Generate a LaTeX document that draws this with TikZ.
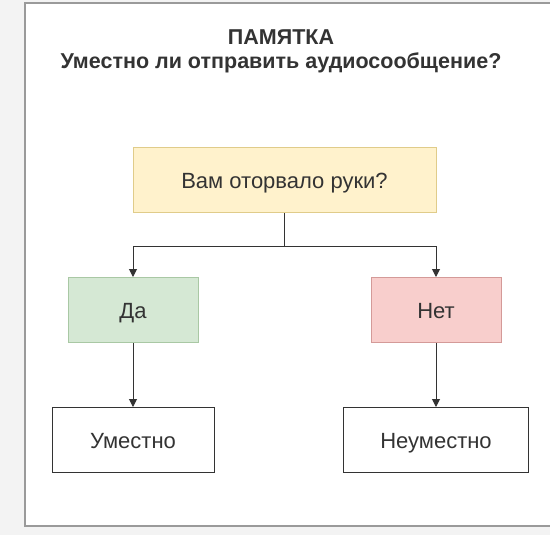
\documentclass[tikz,border=0pt]{standalone}
\usepackage{fontspec}
\setmainfont{Liberation Sans}
\usetikzlibrary{arrows.meta}
\definecolor{MemoText}{HTML}{333333}
\definecolor{MemoFrame}{HTML}{9A9A9A}
\definecolor{MemoBack}{HTML}{F3F3F3}
\definecolor{AskFill}{HTML}{FFF2CC}  \definecolor{AskLine}{HTML}{E0CC8A}
\definecolor{YesFill}{HTML}{D5E8D4}  \definecolor{YesLine}{HTML}{A9C8A4}
\definecolor{NoFill}{HTML}{F8CECC}   \definecolor{NoLine}{HTML}{D49A98}
\tikzset{
  box/.style={draw=MemoText,fill=white,line width=1pt,minimum height=65pt,
    text=MemoText,font=\fontsize{22}{26}\selectfont,inner sep=0pt,
    text height=16pt,text depth=0pt},
  link/.style={draw=MemoText,line width=1pt,-{Triangle[length=8pt,width=8pt]}}
}
\begin{document}
\begin{tikzpicture}[x=1pt,y=-1pt]
  \useasboundingbox (0,0) rectangle (550,535);
  \fill[MemoBack] (0,0) rectangle (550,535);
  \draw[MemoFrame,fill=white,line width=1.2pt] (25,3) rectangle (565,526);
  % heading
  \node[font=\bfseries\fontsize{21.5}{26}\selectfont,text=MemoText] (title) at (281,37) {ПАМЯТКА};
  \node[font=\bfseries\fontsize{21.5}{26}\selectfont,text=MemoText] (subtitle) at (281,63) {Уместно ли отправить аудиосообщение?};
  % boxes
  \node[box,fill=AskFill,draw=AskLine,minimum width=303pt] (ask) at (284.5,180.5) {Вам оторвало руки?};
  \node[box,fill=YesFill,draw=YesLine,minimum width=130pt] (yes) at (133,310) {Да};
  \node[box,fill=NoFill,draw=NoLine,minimum width=130pt] (no) at (436,310) {Нет};
  \node[box,minimum width=162pt] (fit) at (133,440) {Уместно};
  \node[box,minimum width=185pt] (unfit) at (436,440) {Неуместно};
  % connectors
  \coordinate (split) at (284.5,246);
  \draw[link] (ask.south) -- (split) -| (yes.north);
  \draw[link] (ask.south) -- (split) -| (no.north);
  \draw[link] (yes) -- (fit); \draw[link] (no) -- (unfit);
\end{tikzpicture}
\end{document}
